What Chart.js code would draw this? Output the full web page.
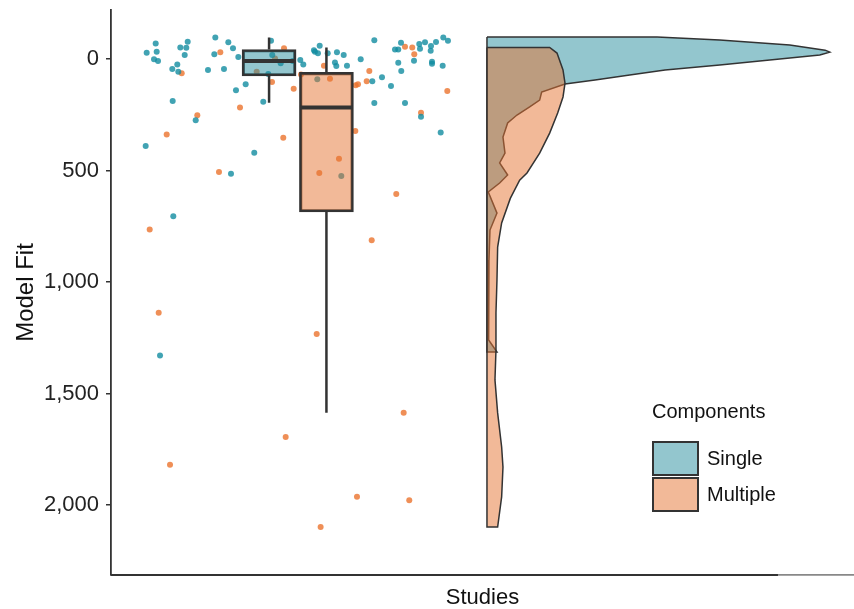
<!DOCTYPE html>
<html>
<head>
<meta charset="utf-8">
<script src="https://cdn.jsdelivr.net/npm/chart.js@4.4.1/dist/chart.umd.min.js"></script>
<style>
  body { margin: 0; background: #fff; }
  #chart { display: block; }
</style>
</head>
<body>
<canvas id="chart" width="854" height="609"></canvas>
<script>
// groups
const groupNames = ['Single', 'Multiple'];
const yTicks = [0, 500, 1000, 1500, 2000];

// jittered study points (x = jitter position, y = model fit)
const singleX = [5.35, 6.70, 6.85, 6.45, 7.05, 9.19, 9.94, 10.09, 10.39, 11.29, 11.50, 11.05, 9.25, 12.70, 5.20,
    15.64, 15.49, 17.59, 18.29, 16.94, 14.54, 19.09, 18.74, 20.19, 21.48, 17.99, 22.83, 23.99, 24.18, 25.44,
    23.58, 27.24, 28.38, 28.83, 30.43, 30.58, 31.29, 31.03, 32.49, 33.88, 34.89, 33.58, 33.78, 35.38, 37.44,
    39.48, 39.18, 40.63, 41.98, 39.48, 44.08, 42.58, 43.07, 43.48, 43.07, 43.52, 45.43, 46.22, 46.33, 47.08,
    47.98, 47.93, 48.73, 48.13, 48.13, 49.82, 50.52, 49.73, 46.48, 49.43, 30.93, 34.53, 9.34, 7.35];
const singleY = [-28, -70, -33, 1, 9, 45, 24, 57, -52, -51, -78, -18, 188, 274, 390,
    -97, -21, -75, -49, 45, 49, -9, 140, 113, 420, 514, 191, -82, -18, 19,
    67, 9, 4, 24, -40, -33, -60, -26, -26, -30, -18, 15, 31, 30, 1,
    -84, 100, 82, 121, 197, 197, -43, -43, -73, 17, 54, 8, -67, -46, -75,
    -58, -37, -76, 12, 21, -97, -82, 30, 259, 329, 91, 525, 705, 1329];
const multipleX = [16.39, 10.60, 12.94, 8.35, 19.34, 16.19, 25.94, 24.59, 21.84, 24.14, 27.39, 28.49, 31.93,
    32.83, 31.23, 34.18, 36.63, 36.69, 37.03, 38.34, 38.73, 42.77, 44.08, 45.17, 45.47, 46.48, 50.42, 25.83,
    5.80, 7.15, 30.84, 39.09, 8.85, 26.19, 43.88, 36.88, 44.72, 31.43];
const multipleY = [-31, 64, 252, 338, 217, 507, -48, -3, 57, 103, 133, 69, 30,
    88, 511, 447, 323, 117, 113, 99, 54, 605, -55, -52, -21, 241, 143, 353,
    765, 1138, 1233, 813, 1819, 1695, 1586, 1963, 1979, 2099];

// box plots: [whisker top, q1, median, q3, whisker bottom]
const singleBox = [-97, -43, 9, 76, 196];
const multipleBox = [-52, 60, 217, 686, 1586];
const boxCenters = [23.7, 32.3];

// half violins: model fit value and density width
const singleViolinY = [-99, -85, -63, -40, -31, -18, 4, 27, 49, 72, 94, 112, 148, 184, 215, 251, 287, 350,
    422, 466, 520, 556, 596, 691, 767, 901, 1081, 1260, 1314];
const singleViolinW = [25.5, 34.9, 45.4, 50.7, 51.4, 49.9, 42.4, 34.9, 26.7, 21.4, 16.2, 11.7, 8.2, 7.9, 6.4,
    4.5, 3.1, 2.4, 2.7, 1.9, 3.1, 1.9, 0.2, 1.5, 0.45, 0.3, 0.2, 0.3, 1.5];
const multipleViolinY = [-52, -27, 49, 108, 170, 242, 332, 422, 511, 543, 625, 735, 843, 991, 1139, 1305,
    1439, 1587, 1740, 1830, 1964, 2099];
const multipleViolinW = [9.4, 10.5, 11.4, 11.7, 11.4, 10.6, 9.4, 7.9, 6.0, 4.9, 3.5, 2.2, 1.6, 1.5, 1.35, 1.35,
    1.2, 1.6, 2.2, 2.4, 2.2, 1.6];

const violinBase = 56.37;

const teal = 'rgba(39,141,157,0.5)';
const orange = 'rgba(229,115,49,0.5)';
const tealPoint = 'rgba(18,140,160,0.8)';
const orangePoint = 'rgba(235,115,45,0.8)';
const dark = '#333333';
const FONT = "'Liberation Sans', Arial, sans-serif";

function points(xs, ys) {
    return xs.map((x, i) => ({ x: x, y: ys[i] }));
}

function violin(ys, ws) {
    let pts = [{ x: violinBase, y: ys[0] }];
    for (let i = 0; i < ys.length; i++) {
        pts.push({ x: violinBase + ws[i], y: ys[i] });
    }
    pts.push({ x: violinBase, y: ys[ys.length - 1] });
    pts.push({ x: violinBase, y: ys[0] });
    return pts;
}

function whiskers(c, s) {
    return [{ x: c, y: s[0] }, { x: c, y: s[1] }, { x: c, y: null }, { x: c, y: s[3] }, { x: c, y: s[4] }];
}

function boxSets(stats, c, color) {
    return [
        {
            type: 'scatter',
            data: [{ x: c, y: stats[2] }],
            pointStyle: 'line',
            pointRadius: 26.5,
            pointBorderWidth: 4,
            pointBorderColor: dark,
            pointBackgroundColor: dark
        },
        {
            type: 'bar',
            data: [{ x: c, y: [stats[1], stats[3]] }],
            backgroundColor: color,
            borderColor: dark,
            borderWidth: 2.5,
            borderSkipped: false,
            barThickness: 54,
            grouped: false
        },
        {
            type: 'scatter',
            data: whiskers(c, stats),
            showLine: true,
            spanGaps: false,
            pointRadius: 0,
            borderColor: dark,
            borderWidth: 2.5
        }
    ];
}

const legendPlugin = {
    id: 'componentsLegend',
    afterDraw(chart) {
        const ctx = chart.ctx;
        const xs = chart.scales.x;
        // dark part of the bottom axis
        ctx.save();
        ctx.strokeStyle = dark;
        ctx.lineWidth = 1.8;
        ctx.beginPath();
        ctx.moveTo(xs.getPixelForValue(0), xs.top);
        ctx.lineTo(xs.getPixelForValue(100), xs.top);
        ctx.stroke();

        ctx.font = '20px ' + FONT;
        ctx.fillStyle = '#111';
        ctx.textBaseline = 'middle';
        ctx.fillText('Components', 652, 412);
        const fills = [teal, orange];
        groupNames.forEach((name, i) => {
            const top = 441 + i * 36;
            ctx.fillStyle = '#fff';
            ctx.fillRect(652, top, 47, 35);
            ctx.fillStyle = fills[i];
            ctx.fillRect(652, top, 47, 35);
            ctx.strokeStyle = dark;
            ctx.lineWidth = 2;
            ctx.strokeRect(653, top + 1, 45, 33);
            ctx.fillStyle = '#111';
            ctx.font = '20px ' + FONT;
            ctx.fillText(name, 707, top + 18);
        });
        ctx.restore();
    }
};

const datasets = [].concat(
    boxSets(singleBox, boxCenters[0], teal),
    boxSets(multipleBox, boxCenters[1], orange),
    [
        { type: 'scatter', data: points(singleX, singleY), pointRadius: 3, pointBorderWidth: 0, pointBackgroundColor: tealPoint },
        { type: 'scatter', data: points(multipleX, multipleY), pointRadius: 3, pointBorderWidth: 0, pointBackgroundColor: orangePoint },
        {
            type: 'scatter', data: violin(multipleViolinY, multipleViolinW), showLine: true, fill: 'shape',
            backgroundColor: orange, borderColor: dark, borderWidth: 1.5, pointRadius: 0, tension: 0
        },
        {
            type: 'scatter', data: violin(singleViolinY, singleViolinW), showLine: true, fill: 'shape',
            backgroundColor: teal, borderColor: dark, borderWidth: 1.5, pointRadius: 0, tension: 0
        }
    ]
);

new Chart(document.getElementById('chart'), {
    type: 'scatter',
    data: { datasets: datasets },
    plugins: [legendPlugin],
    options: {
        responsive: false,
        animation: false,
        devicePixelRatio: 1,
        layout: { autoPadding: false, padding: { top: 10, right: 0, bottom: 0, left: 0 } },
        plugins: { legend: { display: false }, tooltip: { enabled: false } },
        scales: {
            x: {
                type: 'linear',
                min: 0,
                max: 111.4,
                offset: false,
                grid: { display: false },
                ticks: { display: false },
                border: { color: '#888', width: 1.8 },
                title: { display: true, text: 'Studies', color: '#111', font: { family: FONT, size: 22, lineHeight: 1 }, padding: 0 },
                afterFit: (scale) => {
                    scale.height = 34;
                    scale.paddingLeft = 0; scale.paddingRight = 0; scale.paddingTop = 0; scale.paddingBottom = 0;
                }
            },
            y: {
                type: 'linear',
                reverse: true,
                min: -220,
                max: 2314,
                afterBuildTicks: (scale) => { scale.ticks = yTicks.map(v => ({ value: v })); },
                ticks: { color: '#222', font: { family: FONT, size: 22 }, padding: 7 },
                grid: { drawOnChartArea: false, tickLength: 5, color: dark, lineWidth: 1.5 },
                border: { color: dark, width: 1.8 },
                title: { display: true, text: 'Model Fit', color: '#111', font: { family: FONT, size: 24, lineHeight: 1.2 }, padding: { top: 12 } },
                afterFit: (scale) => {
                    scale.width = 111;
                    scale.paddingLeft = 0; scale.paddingRight = 0; scale.paddingTop = 0; scale.paddingBottom = 0;
                }
            }
        }
    }
});
</script>
</body>
</html>
